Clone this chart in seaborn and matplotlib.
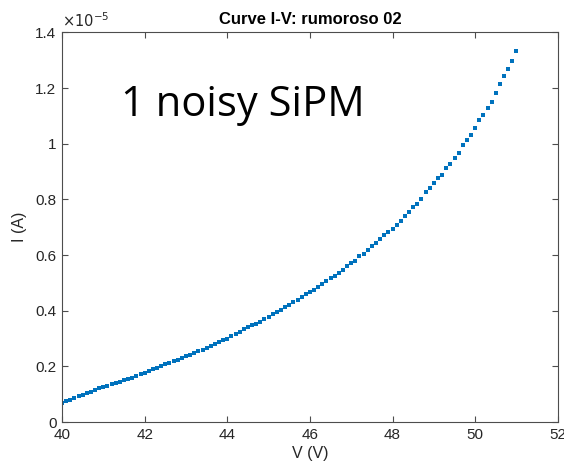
import numpy as np
import pandas as pd
import matplotlib
matplotlib.use("Agg")
import matplotlib.pyplot as plt
import seaborn as sns
from matplotlib.ticker import FuncFormatter

# ========== data ==========
# bias voltage sweep, V
voltage = [
    40.0, 40.1, 40.2, 40.3, 40.4, 40.5, 40.6, 40.7, 40.8, 40.9,
    41.0, 41.1, 41.2, 41.3, 41.4, 41.5, 41.6, 41.7, 41.8, 41.9,
    42.0, 42.1, 42.2, 42.3, 42.4, 42.5, 42.6, 42.7, 42.8, 42.9,
    43.0, 43.1, 43.2, 43.3, 43.4, 43.5, 43.6, 43.7, 43.8, 43.9,
    44.0, 44.1, 44.2, 44.3, 44.4, 44.5, 44.6, 44.7, 44.8, 44.9,
    45.0, 45.1, 45.2, 45.3, 45.4, 45.5, 45.6, 45.7, 45.8, 45.9,
    46.0, 46.1, 46.2, 46.3, 46.4, 46.5, 46.6, 46.7, 46.8, 46.9,
    47.0, 47.1, 47.2, 47.3, 47.4, 47.5, 47.6, 47.7, 47.8, 47.9,
    48.0, 48.1, 48.2, 48.3, 48.4, 48.5, 48.6, 48.7, 48.8, 48.9,
    49.0, 49.1, 49.2, 49.3, 49.4, 49.5, 49.6, 49.7, 49.8, 49.9,
    50.0, 50.1, 50.2, 50.3, 50.4, 50.5, 50.6, 50.7, 50.8, 50.9,
    51.0,
]
# current, in units of 1e-5 A
current_e5 = [
    0.069, 0.075, 0.081, 0.086, 0.092, 0.098, 0.103, 0.108, 0.116, 0.121,
    0.126, 0.130, 0.135, 0.140, 0.145, 0.151, 0.155, 0.160, 0.165, 0.171,
    0.176, 0.183, 0.191, 0.195, 0.200, 0.207, 0.211, 0.219, 0.224, 0.229,
    0.236, 0.242, 0.248, 0.255, 0.260, 0.267, 0.274, 0.280, 0.286, 0.295,
    0.300, 0.309, 0.317, 0.324, 0.333, 0.340, 0.347, 0.354, 0.361, 0.371,
    0.379, 0.388, 0.396, 0.404, 0.413, 0.421, 0.430, 0.440, 0.450, 0.459,
    0.468, 0.475, 0.486, 0.495, 0.506, 0.516, 0.524, 0.534, 0.546, 0.560,
    0.570, 0.579, 0.595, 0.603, 0.619, 0.633, 0.644, 0.658, 0.671, 0.682,
    0.695, 0.708, 0.724, 0.742, 0.756, 0.774, 0.784, 0.803, 0.826, 0.840,
    0.858, 0.878, 0.887, 0.913, 0.927, 0.950, 0.967, 0.994, 1.015, 1.033,
    1.058, 1.084, 1.104, 1.128, 1.150, 1.182, 1.214, 1.243, 1.268, 1.299,
    1.333,
]

x_ticks = [40, 42, 44, 46, 48, 50, 52]
y_ticks = [0, 0.2, 0.4, 0.6, 0.8, 1.0, 1.2, 1.4]

title = "Curve I-V: rumoroso 02"
note = "1 noisy SiPM"

df = pd.DataFrame({"V": voltage, "I": current_e5})

# ========== style (MATLAB-ish) ==========
sns.set_theme(style="ticks")
plt.rcParams["font.family"] = ["Liberation Sans", "DejaVu Sans"]
plt.rcParams["xtick.direction"] = "in"
plt.rcParams["ytick.direction"] = "in"

axis_gray = "#4d4d4d"
matlab_blue = "#0072BD"

fig = plt.figure(figsize=(5.64, 4.70), dpi=100)
ax = fig.add_axes([0.110, 0.102, 0.879, 0.829])

sns.scatterplot(data=df, x="V", y="I", ax=ax, color=matlab_blue,
                marker="s", s=6, linewidth=0, legend=False)

ax.set_xlim(40, 52)
ax.set_ylim(0, 1.4)
ax.set_xticks(x_ticks)
ax.set_yticks(y_ticks)
ax.yaxis.set_major_formatter(FuncFormatter(lambda v, p: f"{v:g}"))

ax.tick_params(axis="both", which="both", top=True, right=True,
               length=4.5, width=0.8, color=axis_gray,
               labelsize=11, labelcolor="#262626", pad=4)
for sp in ax.spines.values():
    sp.set_visible(True)
    sp.set_color(axis_gray)
    sp.set_linewidth(0.8)

ax.set_xlabel("V (V)", fontsize=11.5, color="#262626", labelpad=3)
ax.set_ylabel("I (A)", fontsize=11.5, color="#262626", labelpad=6)
ax.set_title(title, fontsize=12, fontweight="bold", color="black", pad=6)

# exponent marker like MATLAB
ax.text(0.0, 1.005, r"$\times10^{-5}$", transform=ax.transAxes,
        fontsize=10.5, color="#262626", ha="left", va="bottom")

ax.text(0.118, 0.815, note, transform=ax.transAxes,
        fontsize=30, color="black", ha="left", va="center",
        family=["Open Sans", "DejaVu Sans"])

fig.savefig("out.png", dpi=100)
